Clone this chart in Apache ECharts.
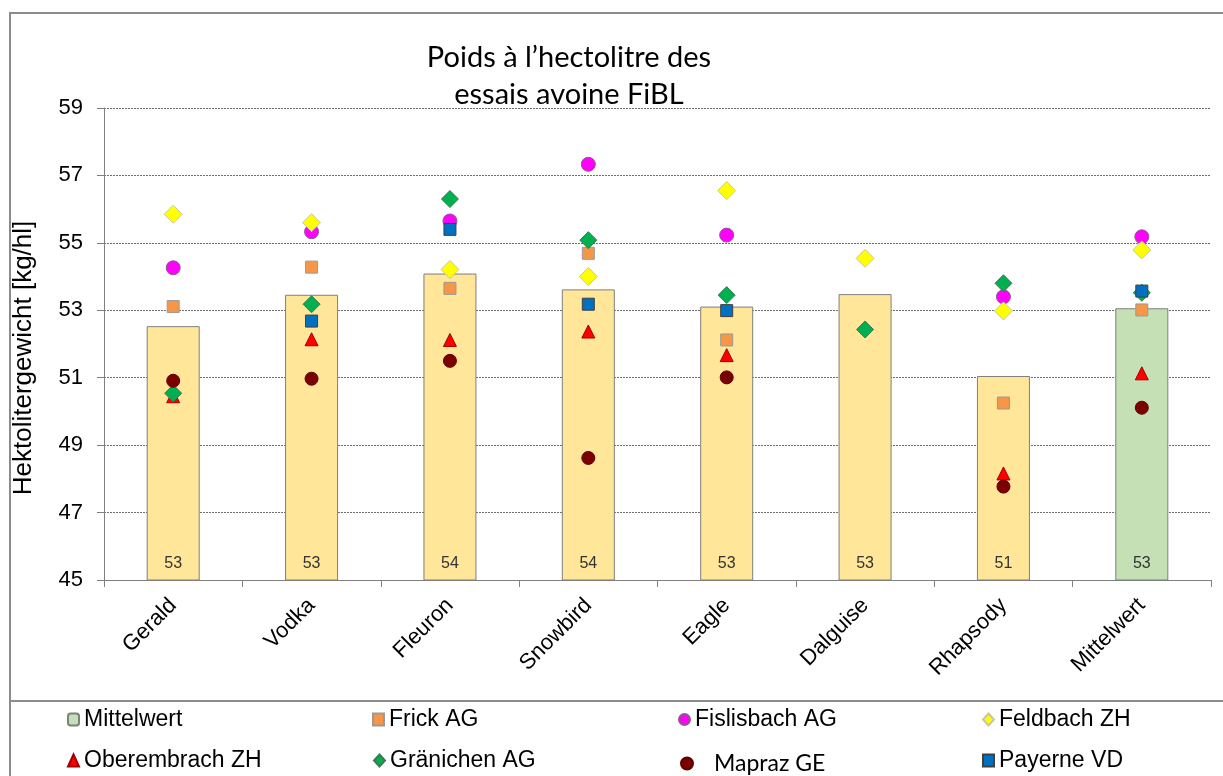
<!DOCTYPE html>
<html>
<head>
<meta charset="utf-8">
<script src="https://cdn.jsdelivr.net/npm/echarts@6/dist/echarts.min.js"></script>
<style>
html,body{margin:0;padding:0;background:#fff;}
#chart{width:1223px;height:776px;}
</style>
</head>
<body>
<div id="chart"></div>
<script>
var categories = ['Gerald', 'Vodka', 'Fleuron', 'Snowbird', 'Eagle', 'Dalguise', 'Rhapsody', 'Mittelwert'];
var mittelwert = [52.53, 53.46, 54.09, 53.62, 53.11, 53.48, 51.05, 53.06];
var frick = [53.11, 54.28, 53.65, 54.69, 52.12, null, 50.25, 53.01];
var fislisbach = [54.26, 55.33, 55.65, 57.33, 55.23, null, 53.40, 55.18];
var feldbach = [55.85, 55.60, 54.21, 54.00, 56.55, 54.54, 52.98, 54.79];
var oberembrach = [50.45, 52.14, 52.12, 52.37, 51.67, null, 48.16, 51.13];
var granichen = [50.54, 53.18, 56.30, 55.08, 53.45, 52.43, 53.80, 53.52];
var mapraz = [50.91, 50.97, 51.50, 48.62, 51.01, null, 47.77, 50.11];
var payerne = [null, 52.68, 55.40, 53.18, 52.99, null, null, 53.57];
var yTicks = {min: 45, max: 59, interval: 2};

var myChart = echarts.init(document.getElementById('chart'));

var barData = [];
mittelwert.forEach(function (v, i) {
    barData.push({
        value: v,
        itemStyle: {color: i == categories.length - 1 ? '#C5E0B4' : '#FFE699'}
    });
});

function pts(name, data, symbol, size, color, border) {
    return {
        name: name,
        type: 'scatter',
        data: data,
        symbol: symbol,
        symbolSize: size,
        itemStyle: {color: color, borderColor: border, borderWidth: 1, opacity: 1},
        z: 3
    };
}

var arial = 'Liberation Sans, Arial';
var legendFont = {fontFamily: arial, fontSize: 23, color: '#000'};
var legendPos = [
    ['Mittelwert', 67, 708], ['Frick AG', 372, 708], ['Fislisbach AG', 678, 708], ['Feldbach ZH', 982, 708],
    ['Oberembrach ZH', 67, 749], ['Gränichen AG', 373, 749], ['Mapraz GE', 680, 752], ['Payerne VD', 982, 749]
];
var legends = legendPos.map(function (p) {
    var l = {
        data: [p[0]],
        left: p[1],
        top: p[2],
        itemWidth: 11,
        itemHeight: 12,
        padding: 0,
        selectedMode: false,
        textStyle: legendFont
    };
    if (p[0] == 'Mapraz GE') {
        l.textStyle = {fontFamily: 'Lato', fontSize: 23, color: '#000', padding: [6, 0, 0, 16]};
        l.itemWidth = 12;
    }
    return l;
});

var option = {
    animation: false,
    backgroundColor: '#fff',
    title: {
        text: 'Poids à l\u2019hectolitre des\nessais avoine FiBL',
        left: 564,
        top: 34,
        textAlign: 'center',
        textStyle: {fontFamily: 'Lato', fontWeight: 'normal', fontSize: 29, lineHeight: 37, color: '#000'}
    },
    legend: legends,
    graphic: [
        {type: 'rect', shape: {x: 10, y: 13, width: 1240, height: 800}, style: {fill: 'none', stroke: '#8c8c8c', lineWidth: 2}, silent: true},
        {type: 'line', shape: {x1: 10, y1: 701, x2: 1223, y2: 701}, style: {stroke: '#8c8c8c', lineWidth: 2}, silent: true}
    ],
    grid: {left: 104, right: 12, top: 108, bottom: 196},
    xAxis: {
        type: 'category',
        data: categories,
        axisLine: {lineStyle: {color: '#808080', width: 1}},
        axisTick: {show: true, length: 7, lineStyle: {color: '#808080'}},
        axisLabel: {rotate: 45, margin: 22, fontFamily: arial, fontSize: 22, color: '#000'}
    },
    yAxis: {
        type: 'value',
        min: yTicks.min,
        max: yTicks.max,
        interval: yTicks.interval,
        name: 'Hektolitergewicht [kg/hl]',
        nameLocation: 'middle',
        nameGap: 67,
        nameTextStyle: {fontFamily: arial, fontSize: 26, color: '#000', padding: [0, 28, 0, 0]},
        axisLine: {show: true, lineStyle: {color: '#808080', width: 1}},
        axisTick: {show: true, length: 7, lineStyle: {color: '#808080'}},
        axisLabel: {margin: 21, fontFamily: arial, fontSize: 22, color: '#000'},
        splitLine: {lineStyle: {color: '#6e6e6e', type: [2, 1], width: 1}}
    },
    series: [
        {
            name: 'Mittelwert',
            type: 'bar',
            data: barData,
            barWidth: 53,
            itemStyle: {color: '#C5E0B4', borderColor: '#7f7f7f', borderWidth: 1},
            label: {
                show: true,
                position: 'insideBottom',
                distance: 9,
                fontFamily: arial,
                fontSize: 16,
                color: '#333',
                formatter: function (p) { return Math.round(p.value); }
            },
            z: 2
        },
        pts('Frick AG', frick, 'rect', 12, '#F79646', '#9a9a9a'),
        pts('Fislisbach AG', fislisbach, 'circle', 14, '#FF00FF', '#8a5a8a'),
        pts('Feldbach ZH', feldbach, 'diamond', 18, '#FFFF00', '#c8c8a0'),
        pts('Oberembrach ZH', oberembrach, 'triangle', 13, '#FF0000', '#a00000'),
        pts('Gränichen AG', granichen, 'diamond', 17, '#00B050', '#3a7a50'),
        pts('Mapraz GE', mapraz, 'circle', 13, '#7B0000', '#600000'),
        pts('Payerne VD', payerne, 'rect', 12, '#0070C0', '#404040')
    ]
};

myChart.setOption(option);
</script>
</body>
</html>
